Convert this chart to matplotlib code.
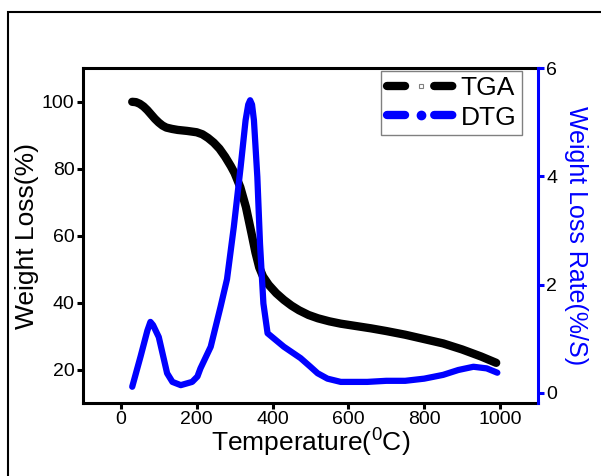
import matplotlib
matplotlib.use('Agg')
import matplotlib.pyplot as plt
from matplotlib.lines import Line2D
from matplotlib.patches import Rectangle

plt.rcParams['font.family'] = ['Liberation Sans', 'DejaVu Sans']
plt.rcParams['mathtext.fontset'] = 'custom'
plt.rcParams['mathtext.rm'] = 'Liberation Sans'
plt.rcParams['mathtext.default'] = 'regular'
plt.rcParams['lines.scale_dashes'] = False

# TGA curve (weight %, left axis)
tga_temp = [30, 40, 50, 60, 70, 80, 90, 100, 110, 120, 135, 150, 175, 200, 215, 230, 245,
            260, 275, 290, 300, 315, 330, 345, 355, 365, 375, 390, 410, 430, 450, 470, 495,
            520, 550, 580, 620, 660, 700, 750, 800, 850, 900, 950, 990]
tga_weight = [100, 99.9, 99.4, 98.6, 97.5, 96.2, 94.9, 93.8, 92.9, 92.3, 91.9, 91.6, 91.3,
              90.9, 90.3, 89.2, 87.8, 86.0, 83.6, 80.8, 78.7, 74.5, 68.5, 60.5, 55.0, 50.5,
              47.8, 45.3, 42.8, 40.8, 39.1, 37.7, 36.3, 35.3, 34.4, 33.7, 33.0, 32.3, 31.5,
              30.4, 29.1, 27.8, 26.0, 23.9, 22.0]

# DTG curve (rate %/S, right axis)
dtg_temp = [30, 52, 70, 78, 85, 100, 122, 136, 158, 188, 202, 210, 237, 263, 280, 298, 316,
            329, 336, 341, 346, 351, 360, 367, 376, 387, 430, 474, 500, 519, 545, 580, 650,
            700, 750, 800, 850, 890, 930, 965, 993]
dtg_rate = [0.11, 0.67, 1.15, 1.31, 1.25, 1.03, 0.36, 0.20, 0.14, 0.20, 0.30, 0.45, 0.85,
            1.59, 2.1, 3.07, 4.18, 5.04, 5.33, 5.41, 5.33, 5.04, 3.99, 2.76, 1.65, 1.10,
            0.85, 0.64, 0.48, 0.36, 0.26, 0.20, 0.20, 0.22, 0.22, 0.26, 0.33, 0.42, 0.48,
            0.45, 0.37]

fig = plt.figure(figsize=(6.01, 4.76), dpi=100)
ax = fig.add_axes([0.138, 0.1534, 0.757, 0.703])
ax2 = ax.twinx()

# outer frame around the figure
fig.patches.append(Rectangle((8 / 601, -0.1), 2, 464 / 476 + 0.1, transform=fig.transFigure,
                             fill=False, ec='black', lw=1.5))

ax.plot(tga_temp, tga_weight, color='black', lw=6, solid_capstyle='round',
        solid_joinstyle='round', zorder=3)
ax2.plot(dtg_temp, dtg_rate, color='#0000ff', lw=4.5, solid_capstyle='round',
         solid_joinstyle='round', zorder=3)

ax.set_xlim(-100, 1100)
ax.set_ylim(10, 110)
ax2.set_ylim(-0.19, 6)
ax.set_xticks([0, 200, 400, 600, 800, 1000])
ax.set_yticks([20, 40, 60, 80, 100])
ax2.set_yticks([0, 2, 4, 6])

for s in ['left', 'bottom', 'top']:
    ax.spines[s].set_linewidth(2.2)
ax.spines['right'].set_visible(False)
for s in ['left', 'bottom', 'top']:
    ax2.spines[s].set_visible(False)
ax2.spines['right'].set_linewidth(2.2)
ax2.spines['right'].set_color('#0000ff')

ax.tick_params(direction='out', length=4, width=2.2, labelsize=14, pad=2)
ax2.tick_params(direction='out', length=4, width=2.2, labelsize=14, pad=2,
                color='#0000ff', labelcolor='black')

ax.set_xlabel('Temperature($^0$C)', fontsize=19, labelpad=-1)
ax.set_ylabel('Weight Loss(%)', fontsize=19, labelpad=2)
ax2.set_ylabel('Weight Loss Rate(%/S)', fontsize=18, color='#0000ff', rotation=270,
               labelpad=22)

h1 = Line2D([], [], color='black', lw=6, linestyle=(0, (13, 21)), dash_capstyle='round',
            marker='s', markersize=3, mfc='white', mec='gray', mew=0.8)
h2 = Line2D([], [], color='#0000ff', lw=6, linestyle=(0, (13, 21)), dash_capstyle='round',
            marker='o', markersize=6, mfc='#0000ff', mec='#0000ff')
leg = ax2.legend([h1, h2], ['TGA', 'DTG'], loc='upper right', bbox_to_anchor=(0.964, 0.992),
                 borderaxespad=0, fontsize=19, fancybox=False, edgecolor='gray',
                 framealpha=1, handlelength=2.6, handletextpad=0.2, labelspacing=0.2,
                 borderpad=0.2, numpoints=1)
leg.get_frame().set_linewidth(1)

fig.savefig('out.png', dpi=100)
